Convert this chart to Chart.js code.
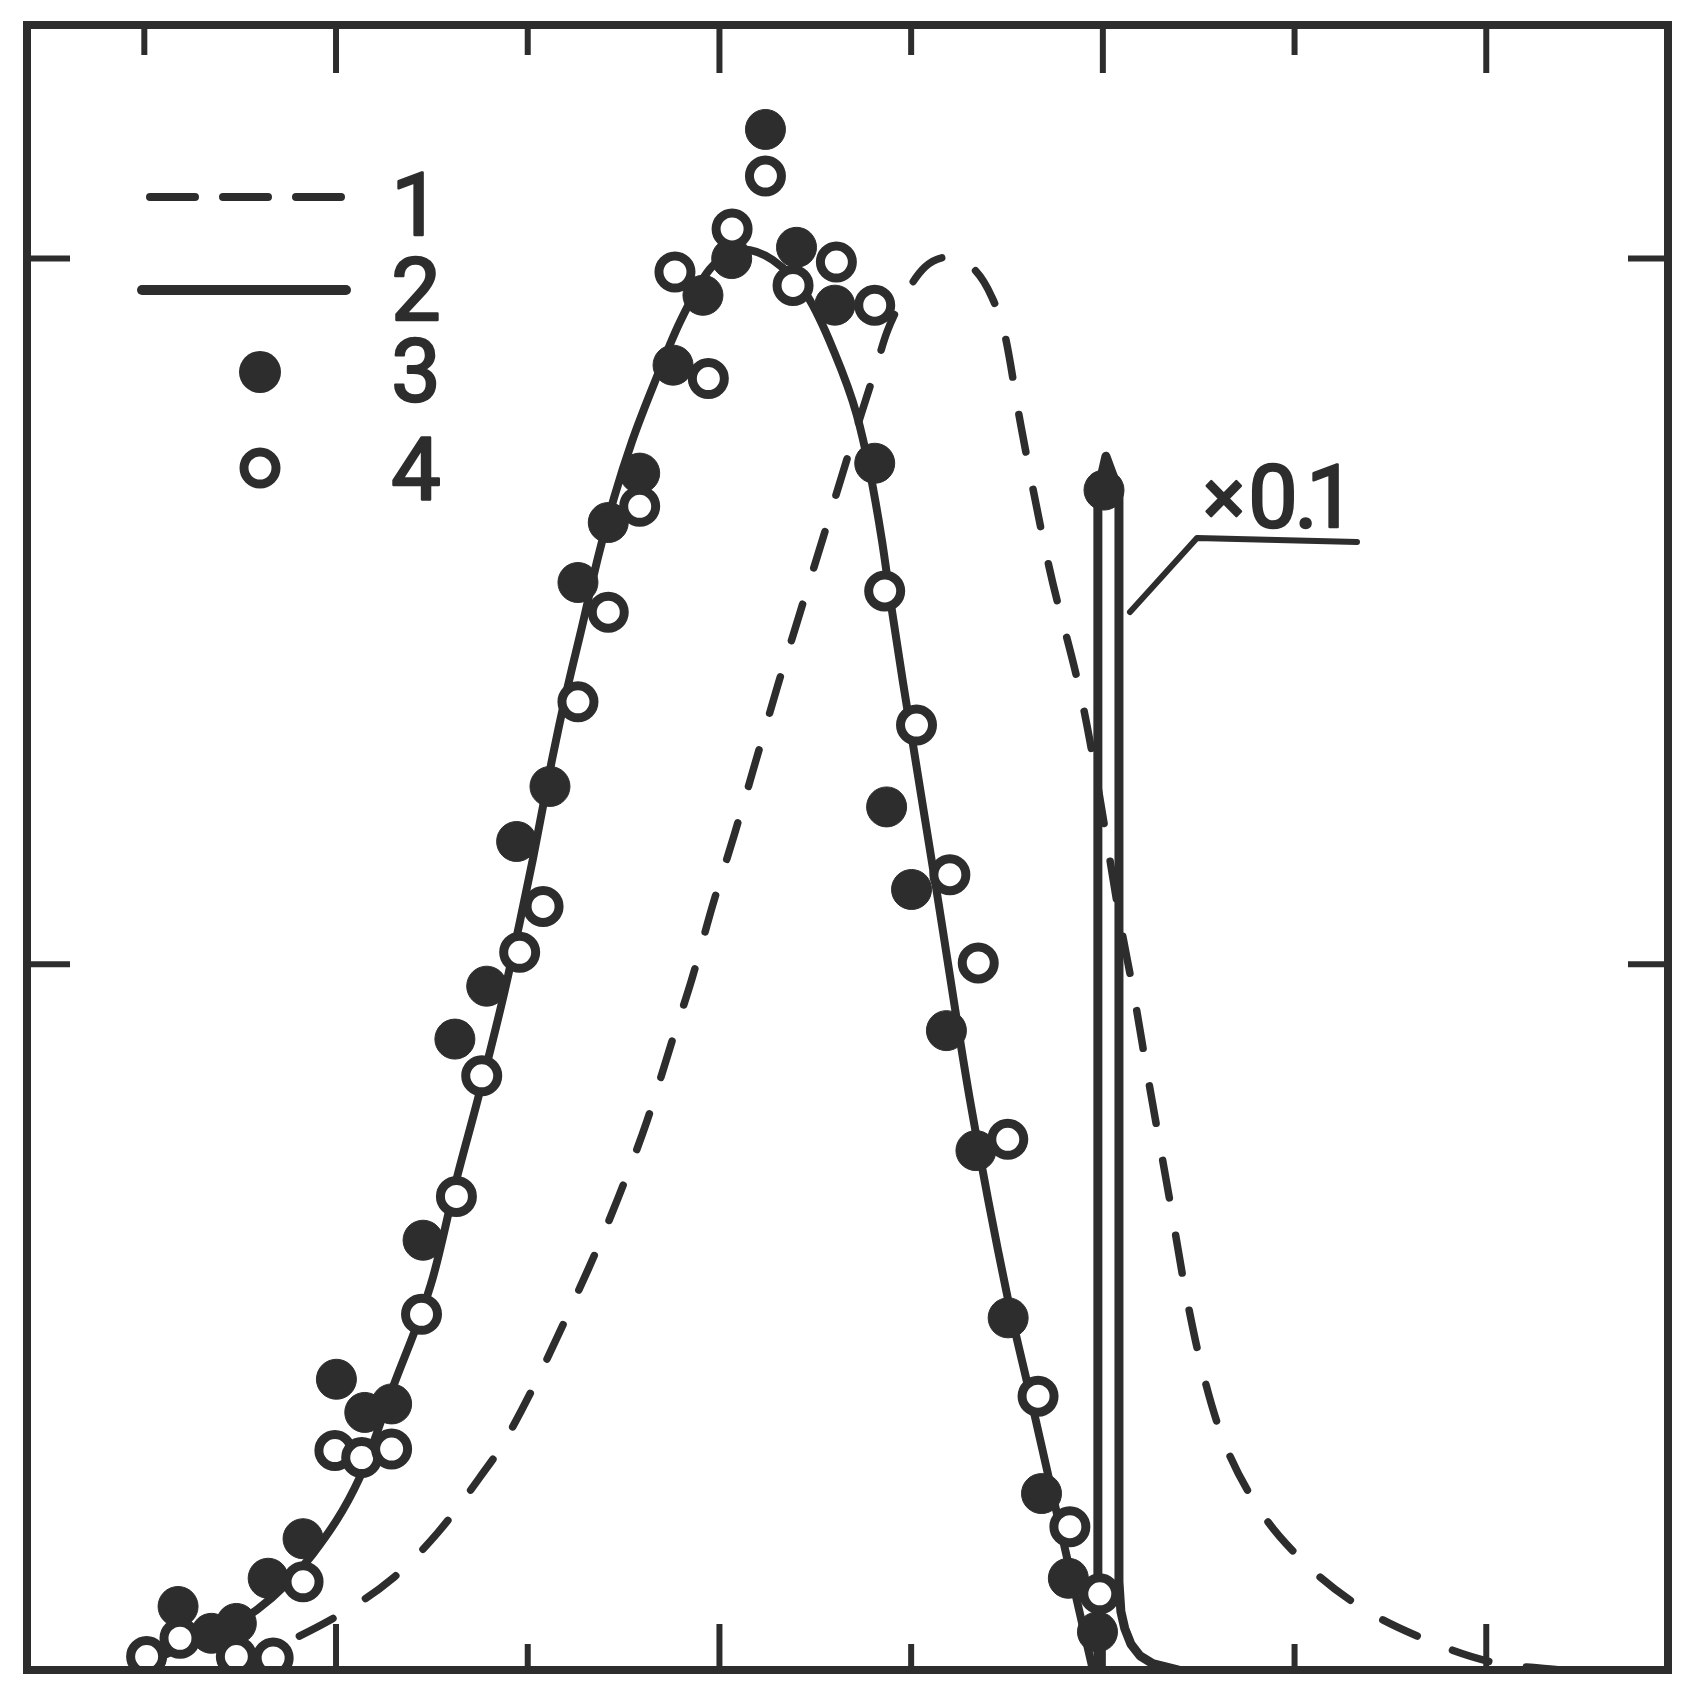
<!DOCTYPE html>
<html lang="en">
<head>
<meta charset="UTF-8">
<title>Line shape</title>
<script src="https://cdn.jsdelivr.net/npm/chart.js"></script>
<style>
  html, body { margin: 0; padding: 0; background: #fff; }
  #wrap { width: 1704px; height: 1695px; }
</style>
</head>
<body>
<div id="wrap"><canvas id="chart" width="1704" height="1695"></canvas></div>
<script>
const INK = '#2d2d2d';

// axes (arbitrary units, the figure has no tick labels)
const xRange = [0.194, 4.474];
const yRange = [0, 2.331];
const xMajorTicks = [1, 2, 3, 4];
const xMinorTicks = [0.5, 1.5, 2.5, 3.5];
const yTicks = [1, 2];

// 1 - dashed curve
const curve1X = [0.723, 0.885, 1.023, 1.146, 1.266, 1.375, 1.446, 1.657, 1.735, 1.811, 1.878, 1.928, 1.983, 2.040, 2.098, 2.152, 2.210, 2.270, 2.335, 2.405, 2.437, 2.476, 2.536, 2.596, 2.666, 2.710, 2.744, 2.786, 2.859, 2.943, 2.977, 3.047, 3.083, 3.117, 3.175, 3.214, 3.258, 3.310, 3.404, 3.530, 3.670, 3.829, 4.009, 4.192];
const curve1Y = [0.005, 0.043, 0.083, 0.129, 0.195, 0.273, 0.330, 0.567, 0.668, 0.778, 0.894, 0.979, 1.085, 1.186, 1.294, 1.395, 1.498, 1.604, 1.720, 1.840, 1.896, 1.941, 1.988, 2.002, 1.984, 1.946, 1.893, 1.764, 1.565, 1.380, 1.284, 1.055, 0.951, 0.842, 0.664, 0.541, 0.428, 0.332, 0.231, 0.150, 0.090, 0.046, 0.012, 0];

// 2 - solid curve
const curve2X = [0.514, 0.645, 0.793, 0.939, 1.062, 1.148, 1.252, 1.315, 1.370, 1.435, 1.479, 1.513, 1.563, 1.602, 1.641, 1.683, 1.725, 1.772, 1.832, 1.897, 1.975, 2.061, 2.139, 2.228, 2.296, 2.358, 2.392, 2.424, 2.450, 2.478, 2.567, 2.653, 2.752, 2.810, 2.867, 2.924, 2.974];
const curve2Y = [0.012, 0.044, 0.085, 0.164, 0.273, 0.400, 0.555, 0.697, 0.809, 0.951, 1.059, 1.148, 1.289, 1.388, 1.477, 1.576, 1.661, 1.741, 1.826, 1.910, 1.985, 2.013, 1.998, 1.948, 1.872, 1.779, 1.699, 1.600, 1.501, 1.402, 1.102, 0.809, 0.527, 0.390, 0.253, 0.118, 0];

// narrow line, drawn x0.1
const narrowX = [2.987, 2.987, 3.008, 3.042, 3.042, 3.047, 3.057, 3.073, 3.097, 3.130, 3.198];
const narrowY = [0, 1.670, 1.720, 1.670, 0.125, 0.083, 0.059, 0.037, 0.020, 0.009, 0];

// 3 - filled points
const pts3X = [0.588, 0.675, 0.740, 0.823, 0.914, 1.001, 1.075, 1.145, 1.227, 1.310, 1.393, 1.471, 1.558, 1.631, 1.710, 1.792, 1.879, 1.957, 2.032, 2.120, 2.201, 2.301, 2.405, 2.436, 2.501, 2.592, 2.669, 2.753, 2.840, 2.910, 2.986, 3.003];
const pts3Y = [0.090, 0.052, 0.066, 0.130, 0.186, 0.412, 0.365, 0.377, 0.609, 0.894, 0.969, 1.174, 1.252, 1.541, 1.626, 1.696, 1.849, 1.948, 2.000, 2.183, 2.016, 1.934, 1.710, 1.223, 1.106, 0.906, 0.736, 0.499, 0.250, 0.130, 0.054, 1.672];

// 4 - open points
const pts4X = [0.506, 0.593, 0.740, 0.836, 0.914, 0.997, 1.067, 1.145, 1.223, 1.314, 1.380, 1.479, 1.540, 1.631, 1.710, 1.792, 1.884, 1.971, 2.033, 2.120, 2.192, 2.305, 2.405, 2.431, 2.514, 2.601, 2.675, 2.752, 2.831, 2.914, 2.992];
const pts4Y = [0.019, 0.045, 0.019, 0.017, 0.125, 0.311, 0.301, 0.313, 0.504, 0.671, 0.842, 1.017, 1.082, 1.372, 1.499, 1.649, 1.981, 1.830, 2.042, 2.117, 1.962, 1.995, 1.934, 1.529, 1.339, 1.127, 1.002, 0.752, 0.388, 0.203, 0.108];

const legendLabels = ['1', '2', '3', '4'];
const scaleNote = '×0.1';

const toXY = (xs, ys) => xs.map((v, i) => ({ x: v, y: ys[i] }));
const FONT = '88px Roboto, "Liberation Sans", sans-serif';

function line(ctx, x0, y0, x1, y1) {
  ctx.beginPath();
  ctx.moveTo(x0, y0);
  ctx.lineTo(x1, y1);
  ctx.stroke();
}

function heavyText(ctx, t, x, y) {
  ctx.fillText(t, x, y);
  ctx.strokeText(t, x, y);
}

const decorations = {
  id: 'decorations',
  beforeDatasetsDraw(chart) {
    const { ctx, chartArea: a, scales: { x, y } } = chart;
    ctx.save();
    ctx.strokeStyle = INK;
    ctx.lineWidth = 6;
    xMajorTicks.forEach(v => {
      const px = x.getPixelForValue(v);
      line(ctx, px, a.top, px, a.top + 48);
      line(ctx, px, a.bottom, px, a.bottom - 46);
    });
    xMinorTicks.forEach(v => {
      const px = x.getPixelForValue(v);
      line(ctx, px, a.top, px, a.top + 30);
      line(ctx, px, a.bottom, px, a.bottom - 26);
    });
    yTicks.forEach(v => {
      const py = y.getPixelForValue(v);
      line(ctx, a.left, py, a.left + 43, py);
      line(ctx, a.right, py, a.right - 40, py);
    });
    ctx.restore();
  },
  afterDatasetsDraw(chart) {
    const { ctx, chartArea: a } = chart;
    ctx.save();
    ctx.strokeStyle = INK;
    ctx.fillStyle = INK;

    // frame
    ctx.lineWidth = 8;
    ctx.strokeRect(a.left, a.top, a.right - a.left, a.bottom - a.top);

    // legend
    ctx.lineCap = 'round';
    ctx.lineWidth = 8;
    ctx.setLineDash([45, 28]);
    line(ctx, 150, 197, 350, 197);
    ctx.setLineDash([]);
    ctx.lineWidth = 10;
    line(ctx, 142, 290, 346, 290);
    ctx.beginPath();
    ctx.arc(260, 372, 21, 0, Math.PI * 2);
    ctx.fill();
    ctx.lineWidth = 9;
    ctx.beginPath();
    ctx.arc(260, 468, 16, 0, Math.PI * 2);
    ctx.stroke();

    ctx.font = FONT;
    ctx.textAlign = 'center';
    ctx.textBaseline = 'alphabetic';
    ctx.lineWidth = 2.5;
    ctx.lineJoin = 'round';
    const baselines = [235, 320, 401, 499];
    legendLabels.forEach((t, i) => heavyText(ctx, t, 416, baselines[i]));

    // x0.1 note with leader
    const chars = Array.from(scaleNote);
    ctx.font = '78px Roboto, "Liberation Sans", sans-serif';
    heavyText(ctx, chars[0], 1224, 524);
    ctx.font = FONT;
    const cx = [0, 1273, 1306, 1331];
    for (let i = 1; i < chars.length; i++) heavyText(ctx, chars[i], cx[i], 527);
    ctx.lineWidth = 6;
    ctx.lineCap = 'round';
    ctx.beginPath();
    ctx.moveTo(1130, 612);
    ctx.lineTo(1197, 538);
    ctx.lineTo(1357, 542);
    ctx.stroke();
    ctx.restore();
  }
};

const noClipBottom = { left: false, right: false, top: false, bottom: 0 };

new Chart(document.getElementById('chart'), {
  type: 'scatter',
  data: {
    datasets: [
      {
        label: '4',
        data: toXY(pts4X, pts4Y),
        pointRadius: 16,
        pointBorderWidth: 9,
        pointBackgroundColor: '#ffffff',
        pointBorderColor: INK,
        clip: noClipBottom
      },
      {
        label: '3',
        data: toXY(pts3X, pts3Y),
        pointRadius: 20,
        pointBorderWidth: 1,
        pointBackgroundColor: INK,
        pointBorderColor: INK,
        clip: noClipBottom
      },
      {
        label: 'narrow',
        data: toXY(narrowX, narrowY),
        showLine: true,
        pointRadius: 0,
        borderColor: INK,
        borderWidth: 9,
        tension: 0,
        borderJoinStyle: 'round'
      },
      {
        label: '2',
        data: toXY(curve2X, curve2Y),
        showLine: true,
        pointRadius: 0,
        borderColor: INK,
        borderWidth: 8,
        cubicInterpolationMode: 'monotone'
      },
      {
        label: '1',
        data: toXY(curve1X, curve1Y),
        showLine: true,
        pointRadius: 0,
        borderColor: INK,
        borderWidth: 7.5,
        borderDash: [38, 38],
        borderCapStyle: 'round',
        cubicInterpolationMode: 'monotone'
      }
    ]
  },
  options: {
    responsive: false,
    animation: false,
    layout: { padding: { left: 27, right: 36, top: 22, bottom: 21 } },
    plugins: { legend: { display: false }, tooltip: { enabled: false } },
    scales: {
      x: { type: 'linear', min: xRange[0], max: xRange[1], display: false },
      y: { type: 'linear', min: yRange[0], max: yRange[1], display: false }
    }
  },
  plugins: [decorations]
});
</script>
</body>
</html>
